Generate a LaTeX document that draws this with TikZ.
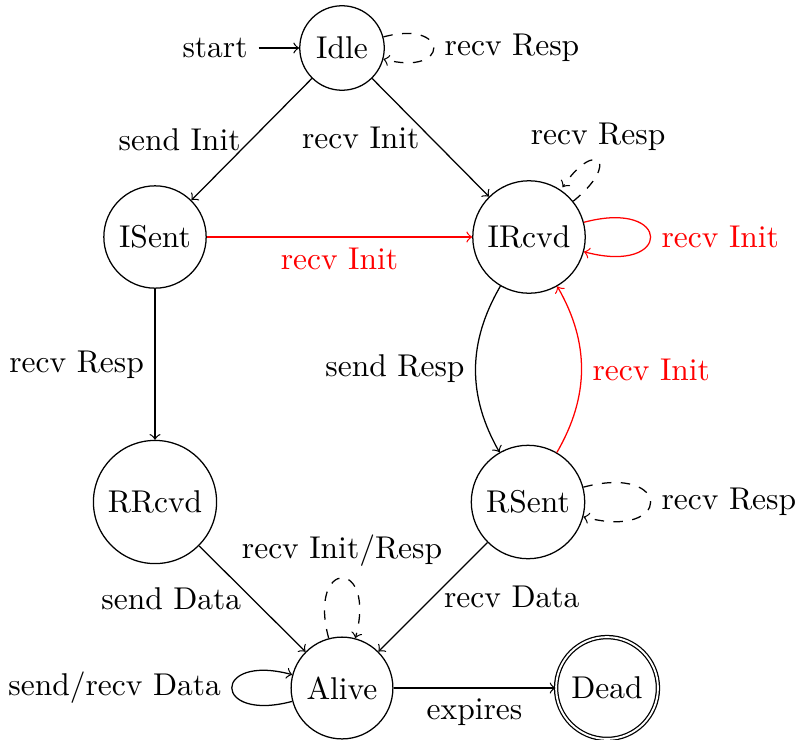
\documentclass[tikz,border=0pt]{standalone}
\begin{document}
\begin{tikzpicture}[x=0.3175pt,y=0.3175pt,
  st/.style={circle,draw},
  acc/.style={circle,draw,double},
  tr/.style={->},
  dsh/.style={->,dashed}]
\useasboundingbox (0,0) rectangle (795,-739);
\node[st] (Idle) at (342,-48) {Idle};
\node (start) at (215,-48) {start};
\node[st] (ISent) at (155,-237) {ISent};
\node[st] (IRcvd) at (529,-237) {IRcvd};
\node[st] (RRcvd) at (155,-502) {RRcvd};
\node[st] (RSent) at (528,-502) {RSent};
\node[st] (Alive) at (342,-688) {Alive};
\node[acc] (Dead) at (607,-688) {Dead};

\draw[tr] (start) -- (Idle);
\draw[dsh] (Idle) to[loop right] node[right] {recv Resp} (Idle);
\draw[tr] (Idle) -- node[left] {send Init} (ISent);
\draw[tr] (Idle) -- node[left] {recv Init} (IRcvd);
\draw[tr,red] (ISent) -- node[below] {recv Init} (IRcvd);
\draw[dsh,shorten >=1pt] (IRcvd.39) .. controls +(39:62) and +(56:62) .. node[above] {recv Resp} (IRcvd.56);
\draw[tr,red] (IRcvd) to[loop right] node[right] {recv Init} (IRcvd);
\draw[tr] (ISent) -- node[left] {recv Resp} (RRcvd);
\draw[tr] (IRcvd) to[bend right] node[left] {send Resp} (RSent);
\draw[tr,red] (RSent) to[bend right] node[right] {recv Init} (IRcvd);
\draw[dsh] (RSent) to[loop right] node[right] {recv Resp} (RSent);
\draw[tr] (RRcvd) -- node[left] {send Data} (Alive);
\draw[tr] (RSent) -- node[right] {recv Data} (Alive);
\draw[dsh] (Alive) to[loop above] node[above] {recv Init/Resp} (Alive);
\draw[tr] (Alive) to[loop left] node[left] {send/recv Data} (Alive);
\draw[tr] (Alive) -- node[below] {expires} (Dead);
\end{tikzpicture}
\end{document}
